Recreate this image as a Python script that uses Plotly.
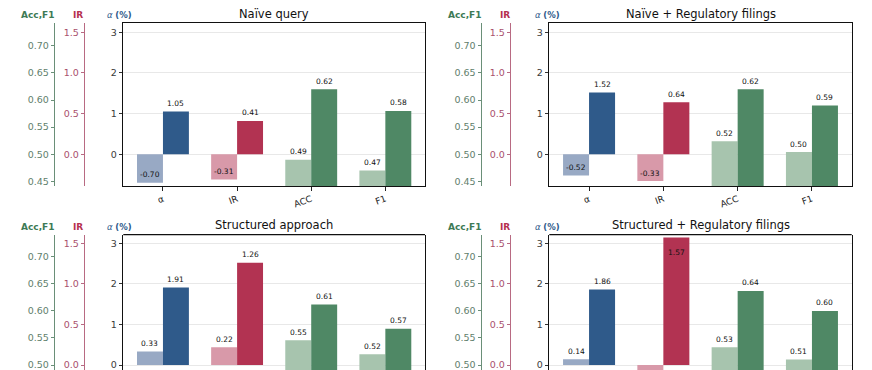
import plotly.graph_objects as go

# ---------------- data ----------------
panel_titles = ["Naïve query", "Naïve + Regulatory filings",
                "Structured approach", "Structured + Regulatory filings"]
metric_labels = ["α", "IR", "ACC", "F1"]

alpha_base = [-0.70, -0.52, 0.33, 0.14]
alpha_enh = [1.05, 1.52, 1.91, 1.86]
ir_base = [-0.31, -0.33, 0.22, -0.12]
ir_enh = [0.41, 0.64, 1.26, 1.57]
acc_base = [0.49, 0.524, 0.546, 0.533]
acc_enh = [0.62, 0.62, 0.612, 0.637]
f1_base = [0.47, 0.504, 0.52, 0.51]
f1_enh = [0.58, 0.59, 0.567, 0.60]

alpha_ticks = [0, 1, 2, 3]
ir_ticks = [0.0, 0.5, 1.0, 1.5]
acc_ticks = [0.45, 0.50, 0.55, 0.60, 0.65, 0.70]

# ---------------- style ----------------
W, H = 872, 370
FONT = "DejaVu Sans"
C_A_LIGHT, C_A_DARK = "#98a9c4", "#2f5a8a"
C_IR_LIGHT, C_IR_DARK = "#d899a9", "#b23352"
C_ACC_LIGHT, C_ACC_DARK = "#a7c4ae", "#4f8865"
C_ALPHA_TXT = "#2e5a8a"
C_IR_TXT = "#b5304f"
C_IR_TICK = "#a9506c"
C_IR_LINE = "#b86a82"
C_ACC_TXT = "#3d7a55"
C_ACC_TICK = "#5f806c"
C_ACC_LINE = "#6a8f78"


def px_x(p):
    return p / W


def px_y(p):
    return 1 - p / H


XDOM = [[px_x(123.3), px_x(425.0)], [px_x(549.3), px_x(851.7)]]
YDOM = [[px_y(186.0), px_y(23.3)], [0.0, px_y(234.7)]]
ARANGE = [[-0.78, 3.22], [-0.123, 3.212]]
ACC_POS = [px_x(54.3), px_x(481.0)]
IR_POS = [px_x(84.3), px_x(510.3)]
HEAD_Y = [px_y(14.5), px_y(226.5)]
TITLE_Y = [px_y(14.0), px_y(225.0)]
HEAD_X = [[37.5, 77.7, 119.5], [464.0, 505.0, 547.0]]

XR = [-0.535, 3.535]
BW = 0.35

fig = go.Figure()
layout = dict(
    width=W, height=H,
    margin=dict(l=0, r=0, t=0, b=0, autoexpand=False),
    paper_bgcolor="white", plot_bgcolor="white",
    font=dict(family=FONT, size=9, color="#333333"),
    barmode="overlay", showlegend=False,
)
annotations = []
shapes = []


def yname(n):
    return "yaxis" if n == 1 else f"yaxis{n}"


def xname(n):
    return "xaxis" if n == 1 else f"xaxis{n}"


def ref(prefix, n):
    return prefix if n == 1 else f"{prefix}{n}"


for p in range(4):
    row, col = p // 2, p % 2
    xn = p + 1
    na, ni, nc = 3 * p + 1, 3 * p + 2, 3 * p + 3
    ar = ARANGE[row]
    ir_range = [ar[0] / 2.0, ar[1] / 2.0]
    acc_range = [0.5 + 0.075 * ar[0], 0.5 + 0.075 * ar[1]]

    layout[xname(xn)] = dict(
        domain=XDOM[col], anchor=ref("y", na), range=XR,
        tickmode="array", tickvals=[0, 1, 2, 3], ticktext=metric_labels,
        tickangle=-20, ticks="outside", ticklen=3.5, tickcolor="#222",
        tickfont=dict(size=9, color="#222"),
        showticklabels=(row == 0),
        showline=(row == 0), mirror=(row == 0), linecolor="#111", linewidth=1.2,
        showgrid=False, zeroline=False, fixedrange=True, automargin=False,
    )
    layout[yname(na)] = dict(
        domain=YDOM[row], anchor=ref("x", xn), range=ar,
        tickmode="array", tickvals=alpha_ticks,
        ticks="outside", ticklen=3.5, tickcolor="#333",
        tickfont=dict(size=9.5, color="#3a3a3a"),
        showline=True, mirror=True, linecolor="#111", linewidth=1.2,
        showgrid=True, gridcolor="#e8e8e8", gridwidth=1, zeroline=False,
        fixedrange=True, automargin=False, ticklabeloverflow="allow",
    )
    layout[yname(ni)] = dict(
        overlaying=ref("y", na), anchor="free", position=IR_POS[col], side="left",
        range=ir_range, tickmode="array", tickvals=ir_ticks, tickformat=".1f",
        ticks="outside", ticklen=3.5, tickcolor=C_IR_LINE,
        tickfont=dict(size=9.5, color=C_IR_TICK),
        showline=True, linecolor=C_IR_LINE, linewidth=1,
        showgrid=False, zeroline=False, fixedrange=True, automargin=False,
        ticklabeloverflow="allow",
    )
    layout[yname(nc)] = dict(
        overlaying=ref("y", na), anchor="free", position=ACC_POS[col], side="left",
        range=acc_range, tickmode="array", tickvals=acc_ticks, tickformat=".2f",
        ticks="outside", ticklen=3.5, tickcolor=C_ACC_LINE,
        tickfont=dict(size=9.5, color=C_ACC_TICK),
        showline=True, linecolor=C_ACC_LINE, linewidth=1,
        showgrid=False, zeroline=False, fixedrange=True, automargin=False,
        ticklabeloverflow="allow",
    )

    groups = [
        (alpha_base[p], alpha_enh[p], C_A_LIGHT, C_A_DARK, na, 1.0, 0.0),
        (ir_base[p], ir_enh[p], C_IR_LIGHT, C_IR_DARK, ni, 2.0, 0.0),
        (acc_base[p], acc_enh[p], C_ACC_LIGHT, C_ACC_DARK, nc, 1 / 0.075, 0.5),
        (f1_base[p], f1_enh[p], C_ACC_LIGHT, C_ACC_DARK, nc, 1 / 0.075, 0.5),
    ]
    for i, (vb, ve, cl, cd, ny, k, off) in enumerate(groups):
        fig.add_trace(go.Bar(
            x=[i - BW / 2, i + BW / 2], y=[vb, ve], width=[BW, BW],
            marker=dict(color=[cl, cd], line=dict(width=0)),
            xaxis=ref("x", xn), yaxis=ref("y", ny), hoverinfo="skip",
        ))
        for xv, v in ((i - BW / 2, vb), (i + BW / 2, ve)):
            a_equiv = (v - off) * k
            if a_equiv + 0.25 > ar[1]:
                ya, ys = "top", -8   # no room above: put label inside the bar
            else:
                ya, ys = "bottom", 1.5
            annotations.append(dict(
                x=xv, y=v, xref=ref("x", xn), yref=ref("y", ny),
                text=f"{v:.2f}", showarrow=False, yanchor=ya, yshift=ys,
                xanchor="center", font=dict(size=7.5, color="#111"),
            ))

    # panel title
    annotations.append(dict(
        x=(XDOM[col][0] + XDOM[col][1]) / 2, y=TITLE_Y[row], xref="paper", yref="paper",
        text=panel_titles[p], showarrow=False, xanchor="center", yanchor="middle",
        font=dict(size=11.5, color="#111"),
    ))
    # axis headings
    hx = HEAD_X[col]
    annotations.append(dict(x=px_x(hx[0]), y=HEAD_Y[row], xref="paper", yref="paper",
                            text="<b>Acc,F1</b>", showarrow=False, xanchor="center",
                            yanchor="middle", font=dict(size=9, color=C_ACC_TXT)))
    annotations.append(dict(x=px_x(hx[1]), y=HEAD_Y[row], xref="paper", yref="paper",
                            text="<b>IR</b>", showarrow=False, xanchor="center",
                            yanchor="middle", font=dict(size=9, color=C_IR_TXT)))
    annotations.append(dict(x=px_x(hx[2]), y=HEAD_Y[row], xref="paper", yref="paper",
                            text="<i>α</i> <b>(%)</b>", showarrow=False, xanchor="center",
                            yanchor="middle", font=dict(size=8.5, color=C_ALPHA_TXT)))

    if row == 1:
        shapes.append(dict(type="line", xref=f"{ref('x', xn)} domain",
                           yref=f"{ref('y', na)} domain", x0=0, x1=1, y0=1, y1=1,
                           line=dict(color="#111", width=1.2)))

layout["annotations"] = annotations
layout["shapes"] = shapes
fig.update_layout(**layout)
fig.write_html(
    "out.html",
    config={"displayModeBar": False},
    post_script="document.body.style.margin='0px';document.body.style.overflow='hidden';",
)
